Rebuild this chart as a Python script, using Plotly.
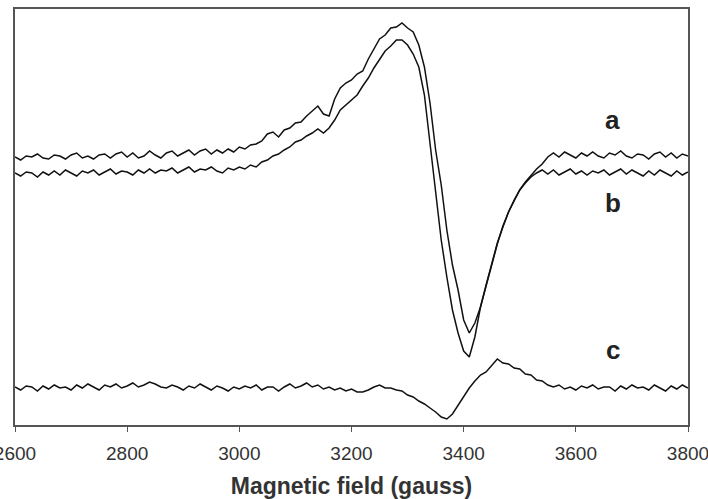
import plotly.graph_objects as go

field = list(range(2600, 3801, 10))

curve_a = [268, 265, 269, 268, 271, 267, 266, 270, 269, 266,
           270, 272, 267, 269, 266, 270, 271, 267, 271, 273,
           268, 272, 267, 269, 274, 270, 267, 272, 274, 269,
           272, 275, 270, 274, 276, 271, 275, 272, 276, 273,
           278, 276, 280, 281, 284, 291, 293, 288, 295, 297,
           302, 303, 309, 314, 319, 311, 309, 326, 337, 342,
           345, 351, 354, 366, 376, 386, 390, 397, 398, 402,
           397, 393, 380, 358, 322, 275, 240, 195, 160, 135,
           105, 92, 102, 118, 140, 162, 182, 198, 213, 225,
           235, 243, 250, 256, 261, 268, 272, 268, 273, 270,
           267, 272, 269, 273, 269, 267, 272, 270, 274, 269,
           267, 271, 270, 266, 271, 273, 268, 272, 267, 271,
           269]

curve_b = [252, 249, 253, 252, 248, 253, 250, 254, 250, 255,
           252, 249, 254, 252, 255, 250, 253, 256, 251, 254,
           253, 250, 255, 252, 256, 252, 255, 254, 257, 252,
           255, 258, 253, 256, 255, 258, 254, 252, 257, 255,
           258, 256, 260, 258, 263, 265, 269, 271, 275, 278,
           283, 285, 289, 292, 296, 292, 297, 305, 315, 320,
           326, 330, 339, 347, 357, 366, 374, 379, 385, 385,
           380, 371, 358, 330, 282, 238, 185, 148, 115, 92,
           74, 68, 88, 118, 140, 162, 181, 199, 213, 224,
           235, 242, 248, 252, 255, 251, 255, 250, 253, 256,
           251, 254, 250, 254, 252, 255, 250, 253, 256, 251,
           255, 252, 249, 254, 250, 255, 252, 249, 254, 250,
           253]

curve_c = [38, 35, 39, 38, 34, 39, 36, 40, 37, 38,
           35, 40, 37, 41, 38, 35, 40, 38, 41, 37,
           39, 42, 38, 40, 43, 41, 38, 37, 40, 38,
           35, 39, 37, 41, 38, 35, 39, 37, 34, 38,
           36, 39, 37, 40, 35, 38, 38, 34, 38, 41,
           37, 39, 42, 38, 40, 36, 38, 35, 37, 34,
           36, 33, 33, 35, 38, 40, 37, 37, 35, 34,
           30, 28, 24, 21, 17, 13, 8, 6, 11, 20,
           29, 37, 44, 50, 53, 60, 66, 62, 61, 57,
           56, 51, 50, 45, 44, 40, 38, 40, 36, 38,
           35, 39, 37, 40, 36, 38, 38, 34, 39, 36,
           40, 37, 38, 35, 40, 37, 34, 39, 36, 40,
           37]

labels = ["a", "b", "c"]
label_x = [3666, 3666, 3666]
label_y = [305, 222, 75]

x_ticks = [2600, 2800, 3000, 3200, 3400, 3600, 3800]

fig = go.Figure()
for ys in (curve_a, curve_b, curve_c):
    fig.add_trace(go.Scatter(x=field, y=ys, mode="lines",
                             line=dict(color="#111111", width=1.5),
                             showlegend=False, hoverinfo="skip"))

for t, xv, yv in zip(labels, label_x, label_y):
    fig.add_annotation(x=xv, y=yv, text=f"<b>{t}</b>", showarrow=False,
                       font=dict(family="Liberation Sans, Arial", size=26, color="#222222"))

fig.update_layout(
    template="none",
    width=708, height=499,
    margin=dict(l=15, r=20, t=9, b=74, autoexpand=False),
    paper_bgcolor="white", plot_bgcolor="white",
    font=dict(family="Liberation Sans, Arial", color="#333333"),
)
fig.update_xaxes(range=[2600, 3800], tickvals=x_ticks,
                 ticktext=[str(v) for v in x_ticks],
                 ticklabeloverflow="allow", ticklabelstandoff=5,
                 showgrid=False, zeroline=False, automargin=False,
                 showline=True, linecolor="#555555", linewidth=1.5, mirror=True,
                 ticks="outside", ticklen=5, tickwidth=1.3, tickcolor="#555555",
                 tickfont=dict(size=19, color="#333333"),
                 title=dict(text="<b>Magnetic field (gauss)</b>",
                            font=dict(size=23, color="#333333"), standoff=15))
fig.update_yaxes(range=[0, 416], showticklabels=False, ticks="",
                 showgrid=False, zeroline=False, automargin=False,
                 showline=True, linecolor="#555555", linewidth=1.5, mirror=True)

fig.write_html("out.html")
